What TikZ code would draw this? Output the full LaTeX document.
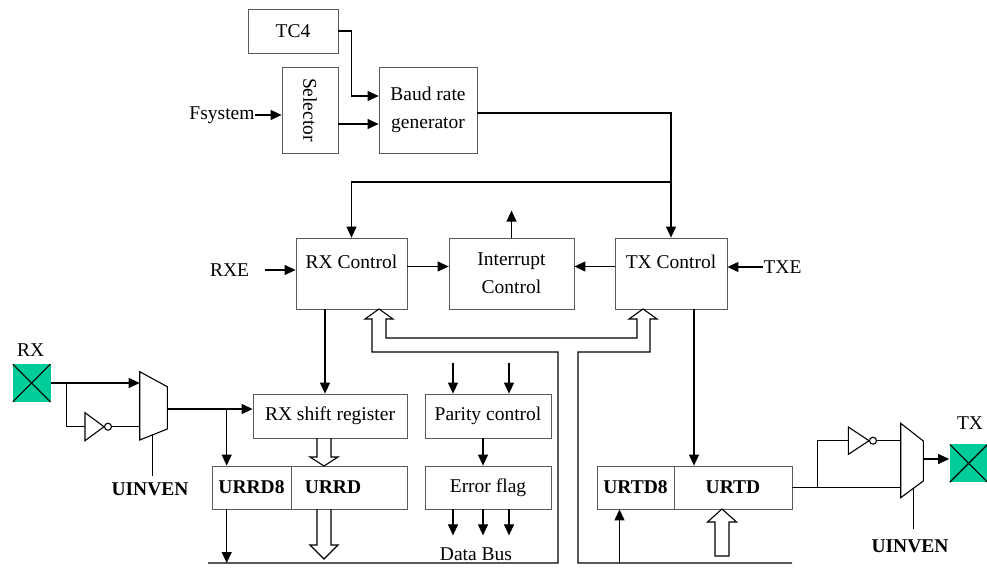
\documentclass[tikz,border=0pt]{standalone}
\usepackage{fontspec}
\setmainfont{Liberation Serif}
\usetikzlibrary{arrows.meta, positioning, calc}
\definecolor{padgreen}{RGB}{0,204,153}

\begin{document}
\begin{tikzpicture}[x=1pt, y=-1pt, line width=1.1pt,
    >={Triangle[length=11pt,width=10pt]},
    font=\fontsize{19.5}{28}\selectfont,
    blk/.style={draw=black!65, line width=0.8pt, inner sep=0pt, align=center},
    txt/.style={inner sep=0pt},
    pad/.style={fill=padgreen, minimum size=38pt, inner sep=0pt,
      path picture={\draw[line width=1.1pt]
        (path picture bounding box.north west) -- (path picture bounding box.south east)
        (path picture bounding box.north east) -- (path picture bounding box.south west);}}]
  \useasboundingbox (0,0) rectangle (987,586);

  \draw (293,31) node[blk, minimum width=90pt, minimum height=44pt] (tc4) {TC4}
    (310,110) node[blk, minimum width=56pt, minimum height=86pt] (sel) {\rotatebox{-90}{Selector}}
    (428,110) node[blk, minimum width=98pt, minimum height=86pt] (baud) {Baud rate\\generator}
    (351.5,273.5) node[blk, minimum width=111pt, minimum height=71pt] (rxc) {}
    (511.5,273.5) node[blk, minimum width=125pt, minimum height=71pt] (intc) {Interrupt\\Control}
    (671,273.5) node[blk, minimum width=112pt, minimum height=71pt] (txc) {}
    (330,416) node[blk, minimum width=154pt, minimum height=44pt] (rxsr) {RX shift register}
    (488,416) node[blk, minimum width=126pt, minimum height=44pt] (par) {Parity control}
    (251.5,487.5) node[blk, minimum width=79pt, minimum height=43pt] (urrd8) {\bfseries URRD8}
    (349,487.5) node[blk, minimum width=116pt, minimum height=43pt] (urrd) {}
    (488,487.5) node[blk, minimum width=126pt, minimum height=43pt] (err) {Error flag}
    (635.5,487.5) node[blk, minimum width=77pt, minimum height=43pt] (urtd8) {\bfseries URTD8}
    (733,487.5) node[blk, minimum width=118pt, minimum height=43pt] (urtd) {\bfseries URTD};

  \draw ([yshift=-24pt]rxc.north) node (rxct) {RX Control}
    ([yshift=-24pt]txc.north) node (txct) {TX Control}
    ([xshift=-16pt]urrd.center) node (urrdt) {\bfseries URRD}
    (222,115) node[txt] (fsys) {Fsystem}
    (229.5,270) node[txt] (rxe) {RXE}
    (782.5,267) node[txt] (txe) {TXE}
    (476,554) node[txt] (dbus) {Data Bus}
    (30.7,350) node[txt] (rxl) {RX}
    (970,423) node[txt] (txl) {TX}
    (150,489) node[txt] (uinv1) {\bfseries UINVEN}
    (910,546) node[txt] (uinv2) {\bfseries UINVEN}
    (31.7,383) node[pad] (rxpad) {}
    (968.7,463.3) node[pad] (txpad) {};

  % mux and inverter ports
  \coordinate (m1a) at (139.7,383);
  \coordinate (m1b) at (139.7,426.7);
  \coordinate (m1o) at (167.3,409);
  \coordinate (m1s) at (152.7,434.8);
  \coordinate (i1in) at (85,426.7);
  \coordinate (i1out) at (111.5,426.7);
  \coordinate (rxb) at (66.7,383);
  \coordinate (rxb2) at (226.7,409);
  \coordinate (m2a) at (900.7,440.7);
  \coordinate (m2b) at (900.7,487.5);
  \coordinate (m2o) at (923.3,459);
  \coordinate (m2s) at (913.3,488.4);
  \coordinate (i2in) at (848.3,440.7);
  \coordinate (i2out) at (876.5,440.7);
  \coordinate (txb) at (817.3,487.5);
  \coordinate (busl) at (208,563);
  \coordinate (split) at (671,182);
  \coordinate (u8) at ([xshift=-16pt]urtd8.south);

  \draw (139.7,371.7) -- (167.3,386.7) -- (167.3,429) -- (139.7,440) -- cycle;
  \draw (900.7,423.3) -- (923.3,441) -- (923.3,481) -- (900.7,497.7) -- cycle;
  \draw (85,412.7) -- (104,426.7) -- (85,440.7) -- cycle (108,426.7) circle[radius=3.5pt];
  \draw (848.3,427) -- (869,440.7) -- (848.3,454.4) -- cycle (873,440.7) circle[radius=3.5pt];

  % RX side
  \draw[->] (rxpad.east) -- (m1a);
  \draw (rxb) |- (i1in);
  \draw (i1out) -- (m1b);
  \draw (m1s) -- ++(0,41);
  \draw[->] (m1o) -- (m1o -| rxsr.west);
  \draw[->] (rxb2) -- (rxb2 |- urrd8.north);
  \draw[->] (rxb2 |- urrd8.south) -- (rxb2 |- busl);

  % TX side
  \draw (urtd.east) -- (m2b);
  \draw (txb) |- (i2in);
  \draw (i2out) -- (m2a);
  \draw[->] (m2o) -- (m2o -| txpad.west);
  \draw (m2s) -- ++(0,41);
  \draw[->] (u8 |- busl) -- (u8);

  % clock and control
  \draw[->] (fsys.east) -- (fsys.east -| sel.west);
  \draw[->] (tc4.east) -- ++(13,0) |- ([yshift=14pt]baud.west);
  \draw[->] ([yshift=-14pt]sel.east) -- ([yshift=-14pt]baud.west);
  \draw[->] ([yshift=-3pt]baud.east) -| (txc.north);
  \draw[->] (split) -| (rxc.north);
  \draw[->] (intc.north) -- ++(0,-27);
  \draw[->] ([yshift=7pt]rxc.east) -- ([yshift=7pt]intc.west);
  \draw[->] ([yshift=7pt]txc.west) -- ([yshift=7pt]intc.east);
  \draw[->] ([xshift=15pt]rxe.east) -- (rxe.east -| rxc.west);
  \draw[->] (txe.west) -- (txe.west -| txc.east);
  \draw[->] ([xshift=-26.5pt]rxc.south) -- ([xshift=-26.5pt]rxc.south |- rxsr.north);
  \draw[->] ([xshift=23pt]txc.south) -- ([xshift=23pt]txc.south |- urtd.north);
  \foreach \dx in {-35,21}
    \draw[->] ([xshift=\dx pt, yshift=31pt]par.north) -- ([xshift=\dx pt]par.north);
  \draw[->] ([xshift=-5pt]par.south) -- ([xshift=-5pt]err.north);
  \foreach \dx in {-35,-5,21}
    \draw[->] ([xshift=\dx pt]err.south) -- ++(0,26);

  % data bus and hollow arrows
  \draw (busl) -- (558,563) -- (558,352) -- (372,352) -- (372,319) -- (365,319) -- (379,309)
    -- (393,319) -- (386,319) -- (386,338) -- (637,338) -- (637,319) -- (629,319) -- (643,309)
    -- (657,319) -- (650,319) -- (650,352) -- (578,352) -- (578,563) -- (792,563);
  \draw (317,438) -- (317,457) -- (310,457) -- (324,466) -- (338,457) -- (331,457) -- (331,438);
  \draw (317,509) -- (317,545) -- (310,545) -- (324,559) -- (338,545) -- (331,545) -- (331,509);
  \draw (715,556) -- (715,522) -- (707.5,522) -- (722,509) -- (736.5,522) -- (729,522) -- (729,556) -- cycle;
\end{tikzpicture}
\end{document}
